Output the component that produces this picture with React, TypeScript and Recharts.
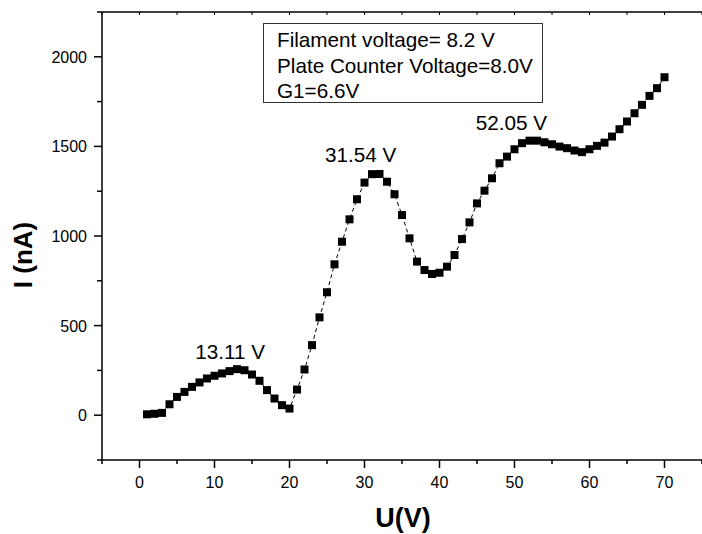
import React from 'react';
import { ComposedChart, Line, XAxis, YAxis, ReferenceDot } from 'recharts';

const voltages = [1, 2, 3, 4, 5, 6, 7, 8, 9, 10, 11, 12, 13, 14, 15, 16, 17, 18, 19, 20,
  21, 22, 23, 24, 25, 26, 27, 28, 29, 30, 31, 32, 33, 34, 35, 36, 37, 38, 39, 40,
  41, 42, 43, 44, 45, 46, 47, 48, 49, 50, 51, 52, 53, 54, 55, 56, 57, 58, 59, 60,
  61, 62, 63, 64, 65, 66, 67, 68, 69, 70];
const currents = [5, 8, 13, 61, 102, 130, 158, 183, 205, 220, 233, 246, 257, 251, 227, 192, 140, 93, 56, 37,
  143, 255, 391, 546, 686, 842, 968, 1093, 1205, 1298, 1345, 1346, 1303, 1233, 1117, 987, 857, 810, 788, 795,
  829, 894, 983, 1076, 1182, 1253, 1322, 1406, 1443, 1484, 1518, 1532, 1532, 1523, 1512, 1499, 1490, 1477, 1468, 1484,
  1503, 1521, 1555, 1596, 1639, 1685, 1732, 1782, 1825, 1886];

const xTicks = [-5, 0, 5, 10, 15, 20, 25, 30, 35, 40, 45, 50, 55, 60, 65, 70, 75];
const yTicks = [-250, 0, 250, 500, 750, 1000, 1250, 1500, 1750, 2000, 2250];
const xLabelTicks = [0, 10, 20, 30, 40, 50, 60, 70];
const yLabelTicks = [0, 500, 1000, 1500, 2000];

const peakLabels = ['13.11 V', '31.54 V', '52.05 V'];
const peakLabelU = [12.1, 29.5, 49.6];
const peakLabelI = [312, 1413, 1594];

const infoLines = ['Filament voltage= 8.2 V', 'Plate Counter Voltage=8.0V', 'G1=6.6V'];

const data = voltages.map((u, k) => ({ u, i: currents[k] }));

const FONT = 'Liberation Sans, Arial, Helvetica, sans-serif';

const Square = (props: any) => {
  const { cx, cy } = props;
  if (cx == null || cy == null) return null;
  return <rect x={cx - 4} y={cy - 4} width={8} height={8} fill="#000" />;
};

const XTick = (props: any) => {
  const { x, y, payload } = props;
  const v = payload.value;
  const major = xLabelTicks.includes(v);
  return (
    <g>
      <line x1={x} y1={y} x2={x} y2={y + (major ? 8 : 4)} stroke="#000" strokeWidth={1.5} />
      {major && (
        <text x={x} y={y + 28} textAnchor="middle" fontSize={16} fontFamily={FONT} fill="#000">
          {v}
        </text>
      )}
    </g>
  );
};

const TopTick = (props: any) => {
  const { x, y } = props;
  return <line x1={x} y1={y} x2={x} y2={y + 3} stroke="#000" strokeWidth={1} />;
};

const YTick = (props: any) => {
  const { x, y, payload } = props;
  const v = payload.value;
  const major = yLabelTicks.includes(v);
  return (
    <g>
      <line x1={x} y1={y} x2={x - (major ? 8 : 5)} y2={y} stroke="#000" strokeWidth={1.5} />
      {major && (
        <text x={x - 15} y={y + 6} textAnchor="end" fontSize={16} fontFamily={FONT} fill="#000">
          {v}
        </text>
      )}
    </g>
  );
};

const PeakText = (text: string) => (props: any) => {
  const { cx, cy } = props;
  return (
    <text x={cx} y={cy} textAnchor="middle" fontSize={20.7} fontFamily={FONT} fill="#000">
      {text}
    </text>
  );
};

export default function App() {
  return (
    <div style={{ position: 'absolute', left: 0, top: 0, width: 702, height: 534, background: '#fff' }}>
      <ComposedChart width={702} height={534} data={data} margin={{ top: 0, right: 0, bottom: 0, left: 0 }}>
        <XAxis
          dataKey="u"
          type="number"
          domain={[-5, 75]}
          ticks={xTicks}
          interval={0}
          allowDataOverflow
          height={74}
          tickSize={0}
          tickMargin={0}
          tickLine={false}
          tick={<XTick />}
          axisLine={{ stroke: '#000', strokeWidth: 1.5 }}
          label={{
            content: () => (
              <text x={403} y={527} textAnchor="middle" fontSize={27} fontWeight="bold" fontFamily={FONT} fill="#000">
                U(V)
              </text>
            ),
          }}
        />
        <XAxis
          xAxisId="top"
          dataKey="u"
          type="number"
          orientation="top"
          domain={[-5, 75]}
          ticks={xTicks}
          interval={0}
          allowDataOverflow
          height={12}
          tickSize={0}
          tickMargin={0}
          tickLine={false}
          tick={<TopTick />}
          axisLine={{ stroke: '#000', strokeWidth: 1.5 }}
        />
        <YAxis
          type="number"
          domain={[-250, 2250]}
          ticks={yTicks}
          interval={0}
          allowDataOverflow
          width={102}
          tickSize={0}
          tickMargin={0}
          tickLine={false}
          tick={<YTick />}
          axisLine={{ stroke: '#000', strokeWidth: 1.5 }}
          label={{
            content: () => (
              <text
                x={32}
                y={255}
                transform="rotate(-90, 32, 255)"
                textAnchor="middle"
                fontSize={26}
                fontWeight="bold"
                fontFamily={FONT}
                fill="#000"
              >
                I (nA)
              </text>
            ),
          }}
        />
        <Line
          dataKey="i"
          stroke="#000"
          strokeWidth={1}
          strokeDasharray="4 3"
          dot={<Square />}
          activeDot={false}
          isAnimationActive={false}
        />
        {peakLabels.map((t, k) => (
          <ReferenceDot key={t} x={peakLabelU[k]} y={peakLabelI[k]} r={0} shape={PeakText(t)} />
        ))}
      </ComposedChart>
      <div
        style={{
          position: 'absolute',
          left: 263,
          top: 23,
          width: 280,
          height: 80,
          boxSizing: 'border-box',
          border: '1px solid #333',
          paddingLeft: 13,
          paddingTop: 3,
          fontFamily: FONT,
          fontSize: 20.7,
          lineHeight: '25.5px',
          color: '#000',
          background: '#fff',
          whiteSpace: 'nowrap',
        }}
      >
        {infoLines.map((l) => (
          <div key={l}>{l}</div>
        ))}
      </div>
    </div>
  );
}
